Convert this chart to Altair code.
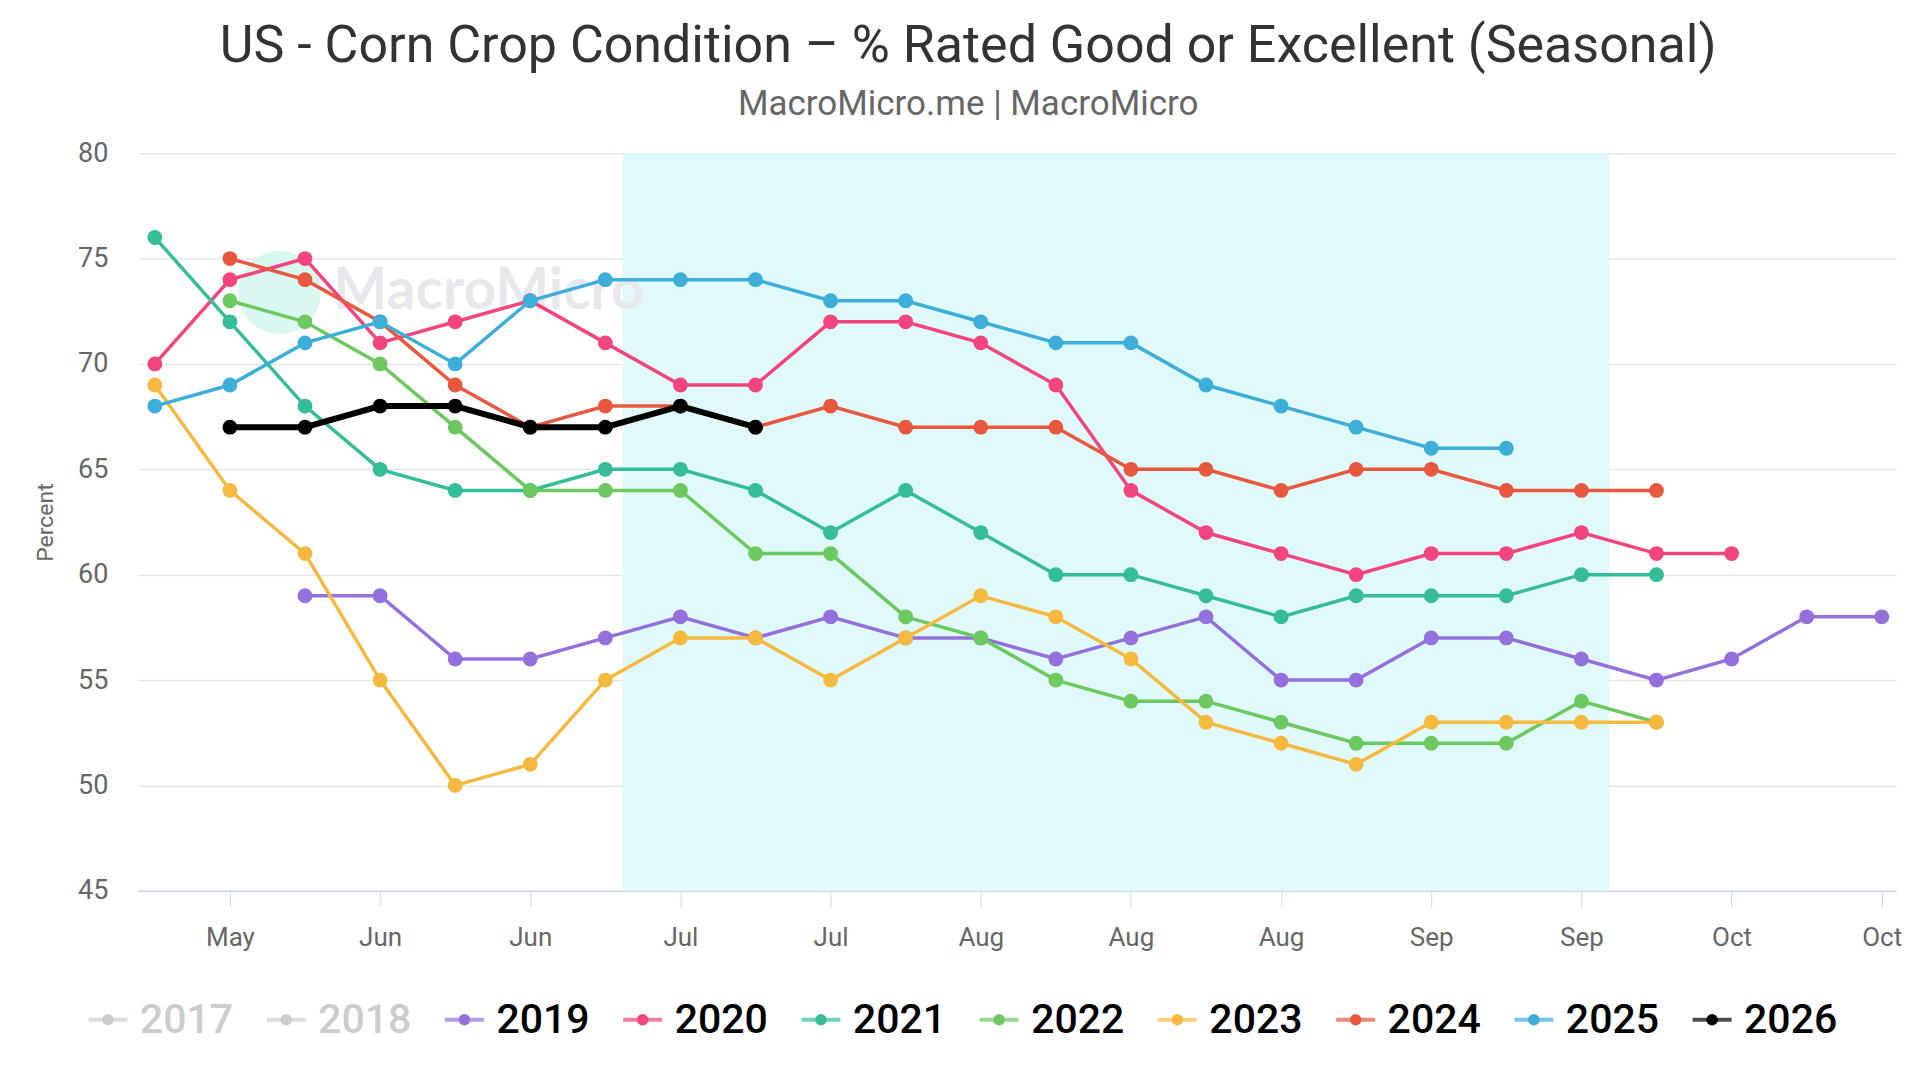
import altair as alt
import pandas as pd

years = ["2017", "2018", "2019", "2020", "2021", "2022", "2023", "2024", "2025", "2026"]
colors = ["#cccccc", "#cccccc", "#9370db", "#f2457f", "#35bc98", "#6dc95f",
          "#f6b93f", "#e8583e", "#3dadda", "#000000"]
label_colors = ["#cccccc", "#cccccc", "#000000", "#000000", "#000000", "#000000",
                "#000000", "#000000", "#000000", "#000000"]

# weekly index 0..23 ; None = no report that week
y2019 = [None, None, 59, 59, 56, 56, 57, 58, 57, 58, 57, 57, 56, 57, 58, 55, 55, 57, 57, 56, 55, 56, 58, 58]
y2020 = [70, 74, 75, 71, 72, 73, 71, 69, 69, 72, 72, 71, 69, 64, 62, 61, 60, 61, 61, 62, 61, 61]
y2021 = [76, 72, 68, 65, 64, 64, 65, 65, 64, 62, 64, 62, 60, 60, 59, 58, 59, 59, 59, 60, 60]
y2022 = [None, 73, 72, 70, 67, 64, 64, 64, 61, 61, 58, 57, 55, 54, 54, 53, 52, 52, 52, 54, 53]
y2023 = [69, 64, 61, 55, 50, 51, 55, 57, 57, 55, 57, 59, 58, 56, 53, 52, 51, 53, 53, 53, 53]
y2024 = [None, 75, 74, 72, 69, 67, 68, 68, 67, 68, 67, 67, 67, 65, 65, 64, 65, 65, 64, 64, 64]
y2025 = [68, 69, 71, 72, 70, 73, 74, 74, 74, 73, 73, 72, 71, 71, 69, 68, 67, 66, 66]
y2026 = [None, 67, 67, 68, 68, 67, 67, 68, 67]

tick_weeks = [1, 3, 5, 7, 9, 11, 13, 15, 17, 19, 21, 23]
tick_labels = ["May", "Jun", "Jun", "Jul", "Jul", "Aug", "Aug", "Aug", "Sep", "Sep", "Oct", "Oct"]

band_start, band_end = 6.23, 19.37

series = {"2019": y2019, "2020": y2020, "2021": y2021, "2022": y2022,
          "2023": y2023, "2024": y2024, "2025": y2025, "2026": y2026}

rows = []
for order, (yr, vals) in enumerate(series.items()):
    for wk, v in enumerate(vals):
        if v is not None:
            rows.append({"Year": yr, "Week": wk, "Percent": v, "order": order})
df = pd.DataFrame(rows)

FONT = "Roboto"
xscale = alt.Scale(domain=[-0.225, 23.19], nice=False, zero=False)
yscale = alt.Scale(domain=[45, 80], nice=False, zero=False)
color_scale = alt.Scale(domain=years, range=colors)

label_expr = "[" + ",".join("'%s'" % t for t in tick_labels) + "][floor((datum.value - 1) / 2)]"

band = alt.Chart(pd.DataFrame({"a": [band_start], "b": [band_end], "lo": [45], "hi": [80]})).mark_rect(
    color="#e0f9fa"
).encode(
    x=alt.X("a:Q", scale=xscale, axis=alt.Axis(
        values=tick_weeks, labelExpr=label_expr, grid=False, title=None,
        labelFontSize=26, labelColor="#666666", labelFont=FONT, labelPadding=18,
        domainColor="#ccd6eb", tickColor="#ccd6eb", tickSize=16, domainWidth=1.5)),
    x2="b:Q",
    y=alt.Y("lo:Q", scale=yscale, axis=alt.Axis(
        values=[45, 50, 55, 60, 65, 70, 75, 80], title="Percent", domain=False, ticks=False,
        labelFontSize=27, labelColor="#666666", labelFont=FONT, labelPadding=30,
        titleFontSize=23, titleColor="#666666", titleFont=FONT, titleFontWeight="normal",
        titlePadding=20, gridColor="#e6e6e6", gridWidth=1.5)),
    y2="hi:Q",
)

wm_df = pd.DataFrame({"wx": [1.66], "wy": [73.4], "tx": [2.38], "label": ["MacroMicro"]})
wm_circle = alt.Chart(wm_df).mark_circle(size=6900, color="#d5f7ef", opacity=0.9).encode(
    x=alt.X("wx:Q", scale=xscale, axis=None), y=alt.Y("wy:Q", scale=yscale))
wm_text = alt.Chart(wm_df).mark_text(
    align="left", baseline="middle", fontSize=57, fontWeight="bold", font="Lato",
    color="#e6e8eb").encode(
    x=alt.X("tx:Q", scale=xscale, axis=None), y=alt.Y("wy:Q", scale=yscale), text="label:N")

base = alt.Chart(df).encode(
    x=alt.X("Week:Q", scale=xscale, axis=None),
    y=alt.Y("Percent:Q", scale=yscale),
    color=alt.Color("Year:N", scale=color_scale, legend=None),
    order="order:Q",
)

layers = []
for yr in series:
    sub = base.transform_filter(alt.datum.Year == yr)
    w = 6 if yr == "2026" else 3.5
    layers.append(sub.mark_line(strokeWidth=w))
    layers.append(sub.mark_point(filled=True, size=220, opacity=1))

# hand-built legend row under the axis (series list order, point scale)
leg_df = pd.DataFrame({"Year": years, "sym": colors, "txt": label_colors})
leg_x = alt.X("Year:N", scale=alt.Scale(type="point", domain=years, range=[-30, 1575], padding=0),
              axis=None)
leg_y = alt.value(867)
leg_base = alt.Chart(leg_df).encode(x=leg_x, y=leg_y)
leg_line = leg_base.mark_tick(orient="horizontal", size=39, thickness=4).encode(
    color=alt.Color("sym:N", scale=None))
leg_dot = leg_base.mark_point(filled=True, size=130, opacity=1).encode(
    color=alt.Color("sym:N", scale=None))
leg_text = leg_base.mark_text(
    align="left", baseline="middle", dx=32, dy=1, fontSize=41, fontWeight=500, font=FONT).encode(
    text="Year:N", color=alt.Color("txt:N", scale=None))

chart = alt.layer(band, wm_circle, wm_text, *layers, leg_line, leg_dot, leg_text).resolve_scale(
    x="independent", color="independent"
).properties(
    width=1759, height=738, background="white",
    padding={"left": 26, "top": 12, "right": 10, "bottom": 5},
    title=alt.Title(
        "US - Corn Crop Condition – % Rated Good or Excellent (Seasonal)",
        subtitle="MacroMicro.me | MacroMicro",
        fontSize=52, font=FONT, fontWeight="normal", color="#333333",
        subtitleFontSize=35, subtitleFont=FONT, subtitleColor="#666666",
        subtitlePadding=14, anchor="middle", frame="bounds", offset=16,
    ),
).configure_view(stroke=None)

chart.save("out.html", embed_options={"renderer": "svg", "actions": False})
